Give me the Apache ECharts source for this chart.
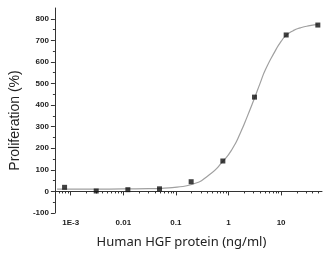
<!DOCTYPE html>
<html><head><meta charset="utf-8">
<script src="https://cdn.jsdelivr.net/npm/echarts@6/dist/echarts.min.js"></script>
<style>html,body{margin:0;padding:0;background:#fff}#c{width:331px;height:256px}</style>
</head><body><div id="c"></div>
<script>
// measured points (concentration ng/ml, proliferation %)
const conc = [0.000763, 0.00305, 0.0122, 0.0488, 0.195, 0.781, 3.125, 12.5, 50];
const prolif = [19, 2, 8, 12, 45, 141, 437, 725, 771];
// fitted curve
const curveX = [0.00055, 0.003, 0.01, 0.03, 0.06, 0.105, 0.2, 0.42, 0.78, 1.2, 1.68, 2.3, 3.13, 4.0, 5.08, 7.7, 10, 12.5, 17, 23.3, 35, 50];
const curveY = [11, 11, 11.5, 12.5, 15, 20, 32, 75, 139, 200, 271, 350, 433, 502, 566, 650, 695, 723, 745, 758, 768, 773];
// ticks
const xTickValues = [0.001, 0.01, 0.1, 1, 10];
const xTickLabels = ['1E-3', '0.01', '0.1', '1', '10'];
const yTickValues = [-100, 0, 100, 200, 300, 400, 500, 600, 700, 800];
const yMinorValues = [-50, 50, 150, 250, 350, 450, 550, 650, 750];

const xMinor = [];
[0.0001, 0.001, 0.01, 0.1, 1, 10].forEach(d => { for (let k = 2; k <= 9; k++) { const v = d * k; if (v > 0.0005 && v < 60) xMinor.push(v); } });

const chart = echarts.init(document.getElementById('c'));
const axisColor = '#333';
const labelStyle = {color: '#222', fontSize: 8, fontFamily: 'Liberation Sans', fontWeight: 'bold'};
chart.setOption({
  animation: false,
  grid: {left: 42, right: 9, top: 8, bottom: 43},
  xAxis: [{
    type: 'log', min: 0.0005, max: 60, position: 'bottom',
    axisLine: {lineStyle: {color: axisColor, width: 1}},
    axisTick: {customValues: xTickValues, length: 4, lineStyle: {color: axisColor}},
    axisLabel: Object.assign({customValues: xTickValues, margin: 6,
      formatter: v => { let best = 0; xTickValues.forEach((t, i) => { if (Math.abs(Math.log10(t) - Math.log10(v)) < Math.abs(Math.log10(xTickValues[best]) - Math.log10(v))) best = i; }); return xTickLabels[best]; }}, labelStyle),
    splitLine: {show: false}, minorTick: {show: false},
    name: 'Human HGF protein (ng/ml)', nameLocation: 'middle', nameGap: 23,
    nameTextStyle: {fontFamily: 'Noto Sans', fontSize: 13, color: '#222', padding: [0, 14, 0, 0]}
  }, {
    type: 'log', min: 0.0005, max: 60, position: 'bottom',
    axisLine: {show: false},
    axisTick: {customValues: xMinor, length: 2, lineStyle: {color: axisColor}},
    axisLabel: {show: false}, splitLine: {show: false}
  }],
  yAxis: [{
    type: 'value', min: -100, max: 850, position: 'left',
    axisLine: {show: true, lineStyle: {color: axisColor, width: 1}},
    axisTick: {show: true, customValues: yTickValues, length: 4, lineStyle: {color: axisColor}},
    axisLabel: Object.assign({customValues: yTickValues, margin: 6}, labelStyle),
    splitLine: {show: false},
    name: 'Proliferation (%)', nameLocation: 'middle', nameGap: 24,
    nameTextStyle: {fontFamily: 'Liberation Sans', fontSize: 14, color: '#222', padding: [0, 20, 0, 0]}
  }, {
    type: 'value', min: -100, max: 850, position: 'left',
    axisLine: {show: false},
    axisTick: {show: true, customValues: yMinorValues, length: 2, lineStyle: {color: axisColor}},
    axisLabel: {show: false}, splitLine: {show: false}
  }],
  series: [{
    type: 'line', xAxisIndex: 0, yAxisIndex: 0,
    data: curveX.map((x, i) => [x, curveY[i]]),
    smooth: 0.6, showSymbol: false, symbol: 'none',
    lineStyle: {color: '#a0a0a0', width: 1.2}, z: 2
  }, {
    type: 'scatter', xAxisIndex: 0, yAxisIndex: 0,
    data: conc.map((x, i) => [x, prolif[i]]),
    symbol: 'rect', symbolSize: 5, itemStyle: {color: '#111'}, z: 3
  }]
});
</script></body></html>
